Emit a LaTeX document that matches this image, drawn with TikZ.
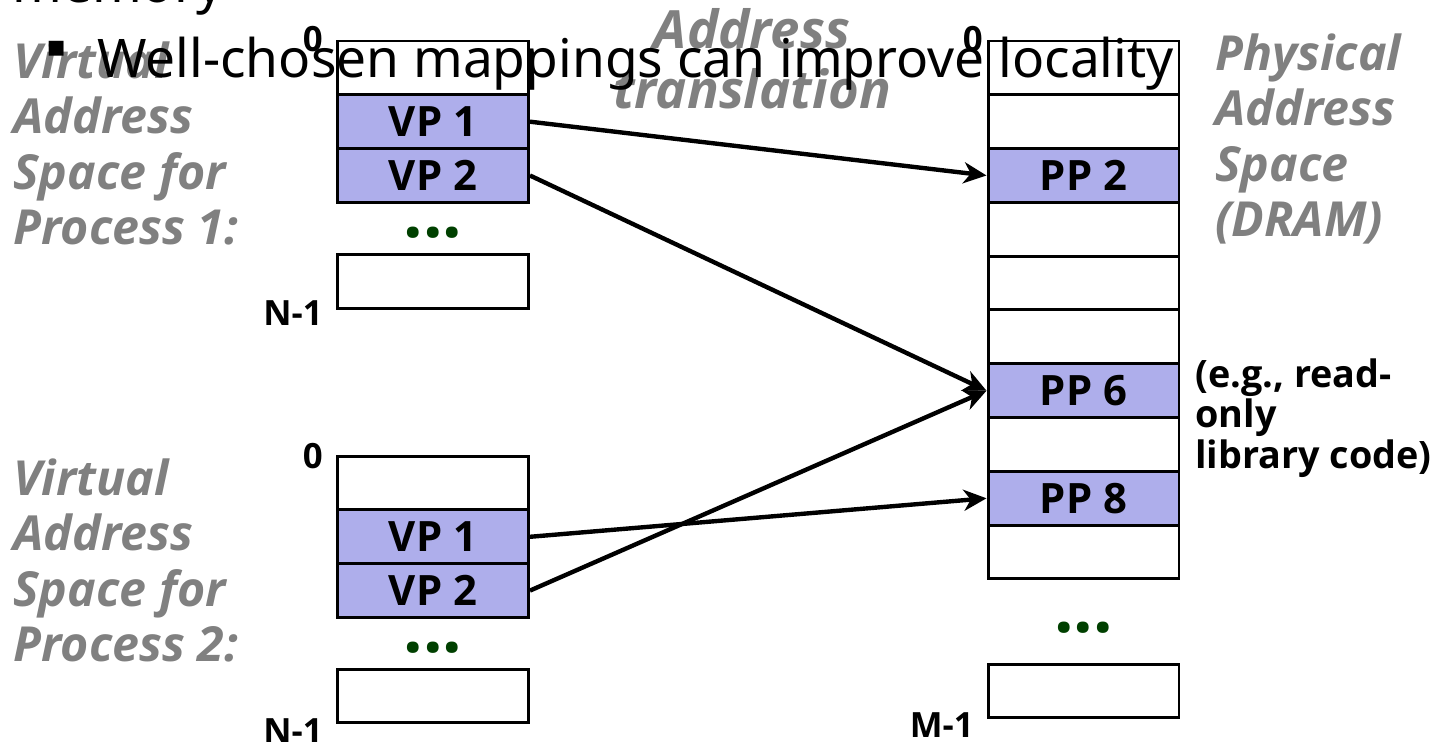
\documentclass[tikz,border=0pt]{standalone}
\usepackage{fontspec}
\setmainfont{Open Sans}
\newfontfamily\slidefont{Noto Sans}
\newfontfamily\symfont{DejaVu Sans}
\usetikzlibrary{arrows.meta}

\definecolor{pagefill}{RGB}{174,174,235}
\definecolor{labelgray}{RGB}{128,128,128}
\definecolor{dotgreen}{RGB}{0,64,0}

\tikzset{
  cell/.style={draw, line width=1.7pt, minimum width=3.82cm, minimum height=1.076cm, inner sep=0pt, font=\fontsize{23.8}{26}\selectfont\bfseries},
  used/.style={cell, fill=pagefill},
  map/.style={line width=2.5pt, -{Stealth[length=13pt, width=12pt, inset=4pt]}},
  caption/.style={text=labelgray, inner sep=0pt, align=left, font=\fontsize{27.5}{31.6}\selectfont\bfseries\itshape},
  addr/.style={inner sep=0pt, font=\fontsize{19.8}{22}\selectfont\bfseries},
  more/.style={text=dotgreen, inner sep=0pt, font=\fontsize{39}{40}\selectfont\bfseries},
  slide/.style={inner sep=0pt, font=\slidefont\fontsize{30.3}{32}\selectfont}
}

\begin{document}
\begin{tikzpicture}[x=0.02cm, y=-0.02cm]
\useasboundingbox (0,0) rectangle (1437,742);

% virtual space, process 1
\node[cell] (p1top) at (433,67.9) {};
\node[used] (p1vp1) at (433,121.7) {VP 1};
\node[used] (p1vp2) at (433,175.5) {VP 2};
\node[more] (p1dots) at (433,233) {...};
\node[cell] (p1end) at (433,281.5) {};
\node[addr, anchor=base east] (p1zero) at (323,52) {0};
\node[addr, anchor=base east] (p1last) at (323,326) {N-1};

% virtual space, process 2
\node[cell] (p2top) at (433,483) {};
\node[used] (p2vp1) at (433,536.8) {VP 1};
\node[used] (p2vp2) at (433,590.6) {VP 2};
\node[more] (p2dots) at (433,648) {...};
\node[cell] (p2end) at (433,696) {};
\node[addr, anchor=base east] (p2zero) at (323,469) {0};
\node[addr, anchor=base east] (p2last) at (323,744) {N-1};

% physical space
\node[cell] (ph0) at (1083.5,67.9) {};
\node[cell] (ph1) at (1083.5,121.7) {};
\node[used] (ph2) at (1083.5,175.5) {PP 2};
\node[cell] (ph3) at (1083.5,229.3) {};
\node[cell] (ph4) at (1083.5,283.1) {};
\node[cell] (ph5) at (1083.5,336.9) {};
\node[used] (ph6) at (1083.5,390.7) {PP 6};
\node[cell] (ph7) at (1083.5,444.5) {};
\node[used] (ph8) at (1083.5,498.3) {PP 8};
\node[cell] (ph9) at (1083.5,552.1) {};
\node[more] (phdots) at (1083.5,628) {...};
\node[cell] (phend) at (1083.5,691) {};
\node[addr, anchor=base east] (phzero) at (983,52) {0};
\node[addr, anchor=base east] (phlast) at (974,738) {M-1};

% mappings
\draw[map] (p1vp1.east) -- (ph2.west);
\draw[map] (p1vp2.east) -- (ph6.west);
\draw[map] (p2vp1.east) -- (ph8.west);
\draw[map] (p2vp2.east) -- (ph6.west);

% captions
\node[caption, anchor=north west] (vas1) at (13,41) {Virtual\\Address\\Space for\\Process 1:};
\node[caption, anchor=north west] (vas2) at (13,458) {Virtual\\Address\\Space for\\Process 2:};
\node[caption, anchor=north, align=center, font=\fontsize{30}{34}\selectfont\bfseries\itshape] (trans) at (752,8) {Address\\translation};
\node[caption, anchor=north west] (pas) at (1215,33) {Physical\\Address\\Space\\(DRAM)};
\node[inner sep=0pt, align=left, anchor=north west, font=\fontsize{21.5}{23.2}\selectfont\bfseries] (shared) at (1195,358) {(e.g., read-\\only\\library code)};

% slide text behind the figure
\node[slide, anchor=base west] (memline) at (12,3) {memory};
\node[inner sep=0pt, font=\symfont\fontsize{17}{18}\selectfont] (bul) at (57,49) {▪};
\node[slide, anchor=base west] (bullet) at (97,78) {Well-chosen mappings can improve locality};
\end{tikzpicture}
\end{document}
